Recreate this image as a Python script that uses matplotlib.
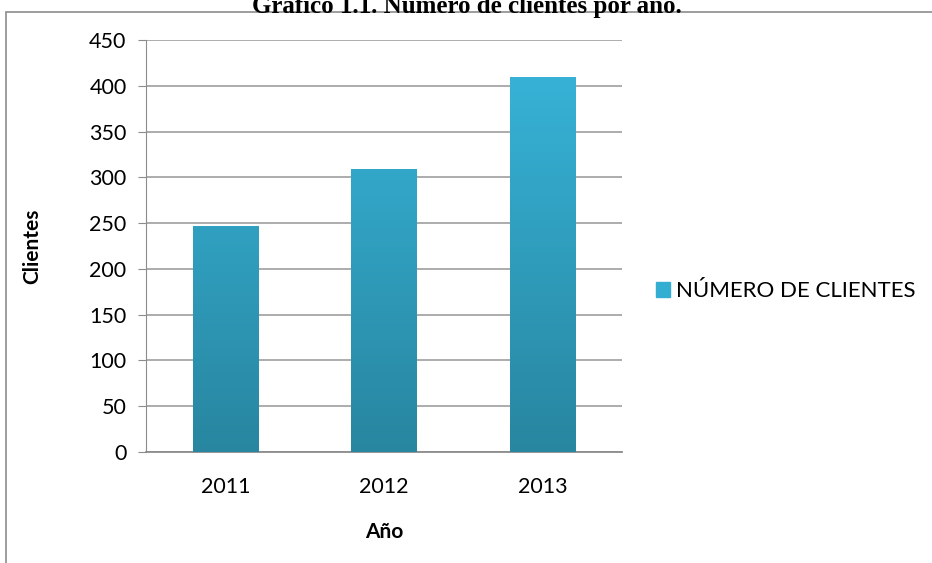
import matplotlib
matplotlib.use("Agg")
import matplotlib.pyplot as plt
import numpy as np
from matplotlib.colors import LinearSegmentedColormap
from matplotlib.patches import Rectangle

years = ["2011", "2012", "2013"]
clientes = [247, 309, 410]
serie = "NÚMERO DE CLIENTES"
titulo = "Gráfico 1.1. Número de clientes por año."

plt.rcParams["font.family"] = ["Lato", "DejaVu Sans"]
fig = plt.figure(figsize=(9.32, 5.63), dpi=100)
ax = fig.add_axes([146 / 932, 1 - 452 / 563, 476 / 932, 412 / 563])

bars = ax.bar(years, clientes, width=0.41, color="#34ADD2", label=serie, zorder=2)
ax.set_ylim(0, 450)
ax.set_xlim(-0.5, 2.5)

# vertical gradient inside each bar
grad = LinearSegmentedColormap.from_list("g", ["#2886A0", "#38B6DB"])
img = np.linspace(0, 1, 256).reshape(-1, 1)
for b in bars:
    x0, y0 = b.get_xy()
    w = b.get_width()
    im = ax.imshow(img, cmap=grad, origin="lower", aspect="auto",
                   extent=(x0, x0 + w, 0, 450), zorder=3)
    im.set_clip_path(b)

ax.set_yticks(range(0, 451, 50))
ax.yaxis.grid(True, color="#A6A6A6", lw=1.3, zorder=1)
ax.set_axisbelow(True)
for s in ["top", "right"]:
    ax.spines[s].set_visible(False)
ax.spines["left"].set_color("#8C8C8C")
ax.spines["bottom"].set_color("#8C8C8C")
ax.spines["bottom"].set_linewidth(1.3)
ax.tick_params(axis="y", length=6, color="#8C8C8C", labelsize=15.5, pad=8)
ax.tick_params(axis="x", length=0, labelsize=15.5, pad=18)
ax.set_ylabel("Clientes", fontsize=15, fontweight="bold", labelpad=34)
ax.set_xlabel("Año", fontsize=15, fontweight="bold", labelpad=18)

leg = ax.legend(loc="center left", bbox_to_anchor=(1.03, 0.39), frameon=False,
                fontsize=16, handlelength=0.6, handleheight=0.6, handletextpad=0.3)
leg.legend_handles[0].set_color("#34ADD2")

# outer chart frame
fig.patches.append(Rectangle((6 / 932, -0.01), 1.0, 1 - 12 / 563 + 0.01,
                             transform=fig.transFigure, fill=False,
                             edgecolor="#8C8C8C", lw=1.2))
fig.text(467 / 932, 1 - 13 / 563, titulo, ha="center", va="baseline",
         fontsize=18, fontweight="bold", family=["Liberation Serif"])

fig.savefig("out.png", dpi=100)
